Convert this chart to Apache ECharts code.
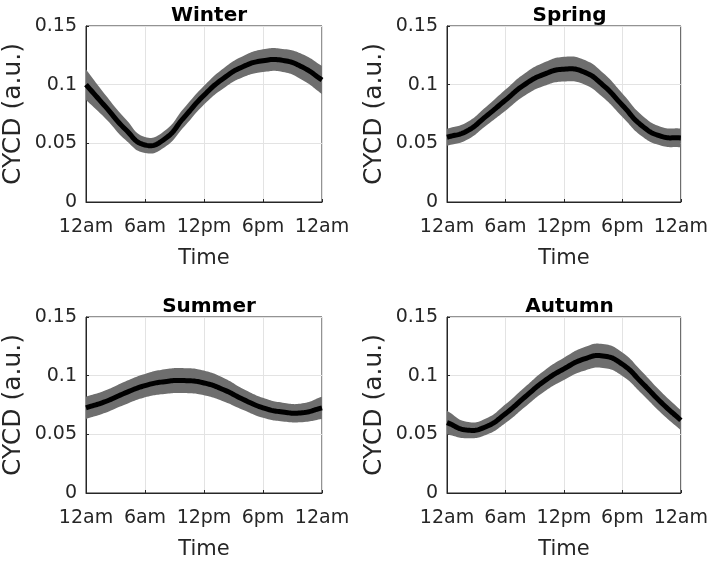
<!DOCTYPE html>
<html>
<head>
<meta charset="utf-8">
<script src="https://cdn.jsdelivr.net/npm/echarts@6/dist/echarts.min.js"></script>
<style>
html,body{margin:0;padding:0;background:#fff;}
#c{width:711px;height:561px;}
</style>
</head>
<body>
<div id="c"></div>
<script>
// Hours of day (x values)
var hours = [0, 2, 4, 6, 8, 10, 12, 14, 16, 18, 20, 22, 24];
var xTickLabels = ['12am', '6am', '12pm', '6pm', '12am'];
var seasons = ['Winter', 'Spring', 'Summer', 'Autumn'];

// Mean CYCD per season
var winterMean = [0.100, 0.081, 0.062, 0.0486, 0.0537, 0.0724, 0.091, 0.1055, 0.1155, 0.1204, 0.1207, 0.115, 0.104];
var springMean = [0.0552, 0.0603, 0.073, 0.0868, 0.1003, 0.109, 0.1132, 0.111, 0.0997, 0.0825, 0.065, 0.056, 0.0546];
var summerMean = [0.0726, 0.078, 0.0853, 0.0915, 0.0949, 0.0958, 0.0938, 0.088, 0.0797, 0.0726, 0.069, 0.0684, 0.0726];
var autumnMean = [0.060, 0.0537, 0.0565, 0.0676, 0.0818, 0.0955, 0.1058, 0.114, 0.1168, 0.1097, 0.094, 0.077, 0.062];

// Half-width of the shaded band per season (vertical)
var winterCI = [0.013, 0.010, 0.009, 0.0068, 0.007, 0.008, 0.008, 0.0085, 0.009, 0.0097, 0.0098, 0.011, 0.012];
var springCI = [0.0072, 0.0075, 0.008, 0.009, 0.0095, 0.010, 0.0105, 0.0105, 0.0105, 0.010, 0.009, 0.008, 0.008];
var summerCI = [0.0095, 0.0095, 0.0098, 0.010, 0.0105, 0.0106, 0.0105, 0.010, 0.009, 0.0085, 0.008, 0.008, 0.0095];
var autumnCI = [0.010, 0.007, 0.007, 0.008, 0.0085, 0.009, 0.0095, 0.010, 0.0102, 0.010, 0.0095, 0.009, 0.0085];

var means = [winterMean, springMean, summerMean, autumnMean];
var cis = [winterCI, springCI, summerCI, autumnCI];

var FONT = '"DejaVu Sans", Verdana, sans-serif';
var TXT = '#262626';
var grids = [
  {left: 86, top: 26, width: 236, height: 176},
  {left: 447, top: 26, width: 235, height: 176},
  {left: 86, top: 317, width: 236, height: 177},
  {left: 447, top: 317, width: 235, height: 177}
];

// Smooth curve through pixel points (bezier smoothing in the style of ECharts' line smooth)
function smoothSample(pts, smooth, steps) {
  var n = pts.length, cps = [];
  for (var i = 0; i < n; i++) {
    var p = pts[i], prev = pts[Math.max(0, i - 1)], next = pts[Math.min(n - 1, i + 1)];
    var vx = next[0] - prev[0], vy = next[1] - prev[1];
    var d0 = Math.hypot(p[0] - prev[0], p[1] - prev[1]);
    var d1 = Math.hypot(next[0] - p[0], next[1] - p[1]);
    var r = (d0 + d1) > 0 ? d1 / (d0 + d1) : 0.5;
    cps.push({
      inn: [p[0] - vx * smooth * (1 - r), p[1] - vy * smooth * (1 - r)],
      out: [p[0] + vx * smooth * r, p[1] + vy * smooth * r]
    });
  }
  var out = [pts[0].slice()];
  for (var j = 0; j < n - 1; j++) {
    var a = pts[j], b = cps[j].out, c = cps[j + 1].inn, d = pts[j + 1];
    for (var s = 1; s <= steps; s++) {
      var t = s / steps, u = 1 - t;
      out.push([
        u * u * u * a[0] + 3 * u * u * t * b[0] + 3 * u * t * t * c[0] + t * t * t * d[0],
        u * u * u * a[1] + 3 * u * u * t * b[1] + 3 * u * t * t * c[1] + t * t * t * d[1]
      ]);
    }
  }
  return out;
}

function makeBandRenderer(idx) {
  return function (params, api) {
    var m = means[idx], c = cis[idx];
    var up = hours.map(function (h, k) { return api.coord([h, m[k] + c[k]]); });
    var lo = hours.map(function (h, k) { return api.coord([h, m[k] - c[k]]); });
    var upS = smoothSample(up, 0.5, 14);
    var loS = smoothSample(lo.slice().reverse(), 0.5, 14);
    return {type: 'polygon', shape: {points: upS.concat(loS)},
      style: {fill: '#6e6e6e', stroke: null}};
  };
}
function makeLineRenderer(idx) {
  return function (params, api) {
    var m = means[idx];
    var pts = hours.map(function (h, k) { return api.coord([h, m[k]]); });
    return {type: 'polyline', shape: {points: smoothSample(pts, 0.5, 14)},
      style: {stroke: '#000', lineWidth: 5, fill: null, lineJoin: 'round'}};
  };
}

var option = {
  animation: false,
  backgroundColor: '#ffffff',
  title: [], grid: [], xAxis: [], yAxis: [], series: []
};

for (var i = 0; i < 4; i++) {
  var g = grids[i];
  option.grid.push({left: g.left, top: g.top, width: g.width, height: g.height,
    show: true, borderColor: TXT, borderWidth: 1, backgroundColor: 'transparent'});
  option.title.push({
    text: seasons[i], left: g.left + g.width / 2, top: g.top - 25, textAlign: 'center',
    textStyle: {fontFamily: FONT, fontSize: 20, fontWeight: 'bold', color: '#000'}
  });
  option.xAxis.push({
    type: 'value', gridIndex: i, min: 0, max: 24, interval: 6,
    name: 'Time', nameLocation: 'middle', nameGap: 46,
    nameTextStyle: {fontFamily: FONT, fontSize: 21, color: TXT},
    axisLine: {show: true, onZero: false, lineStyle: {color: TXT, width: 1}},
    axisTick: {show: true, inside: true, length: 3, lineStyle: {color: TXT}},
    axisLabel: {fontFamily: FONT, fontSize: 19, color: TXT, margin: 16,
      showMinLabel: true, showMaxLabel: true, hideOverlap: false,
      formatter: function (v) { return xTickLabels[Math.round(v / 6)]; }},
    splitLine: {show: true, lineStyle: {color: '#e3e3e3', width: 1}}
  });
  option.yAxis.push({
    type: 'value', gridIndex: i, min: 0, max: 0.15, interval: 0.05,
    name: 'CYCD (a.u.)', nameLocation: 'middle', nameGap: 60,
    nameTextStyle: {fontFamily: FONT, fontSize: 25, color: TXT},
    axisLine: {show: true, onZero: false, lineStyle: {color: TXT, width: 1}},
    axisTick: {show: true, inside: true, length: 3, lineStyle: {color: TXT}},
    axisLabel: {fontFamily: FONT, fontSize: 19, color: TXT, margin: 9,
      formatter: function (v) { return String(+v.toFixed(2)); }},
    splitLine: {show: true, lineStyle: {color: '#e3e3e3', width: 1}}
  });
  option.series.push({
    type: 'custom', name: seasons[i] + ' band', xAxisIndex: i, yAxisIndex: i,
    data: [[0, 0]], renderItem: makeBandRenderer(i), silent: true, clip: true, z: 2
  });
  option.series.push({
    type: 'custom', name: seasons[i] + ' mean', xAxisIndex: i, yAxisIndex: i,
    data: [[0, 0]], renderItem: makeLineRenderer(i), silent: true, clip: false, z: 3
  });
}

var chart = echarts.init(document.getElementById('c'), null, {renderer: 'canvas'});
chart.setOption(option);
</script>
</body>
</html>
